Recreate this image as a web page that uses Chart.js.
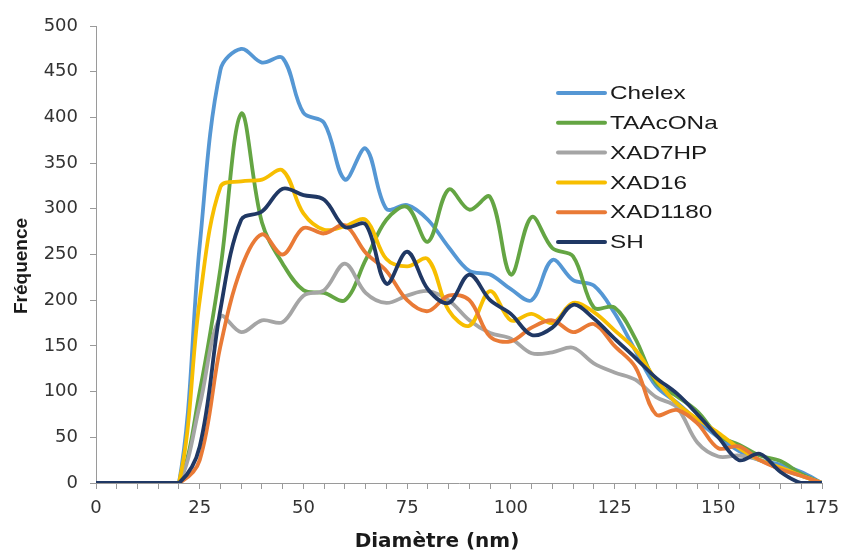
<!DOCTYPE html>
<html>
<head>
<meta charset="utf-8">
<script src="https://cdn.jsdelivr.net/npm/chart.js@4"></script>
<style>
  html, body { margin: 0; padding: 0; background: #ffffff; }
  canvas { display: block; }
</style>
</head>
<body>
<canvas id="chart" width="842" height="552"></canvas>
<script>
// Particle size distribution: frequency per 5 nm diameter bin
const diametres = [0, 5, 10, 15, 20, 25, 30, 35, 40, 45, 50, 55, 60, 65, 70, 75, 80, 85,
                   90, 95, 100, 105, 110, 115, 120, 125, 130, 135, 140, 145, 150, 155, 160, 165, 170, 175];

const chelex   = [0, 0, 0, 0, 0, 260, 452, 475, 460, 465, 405, 394, 332, 366, 300, 304, 288, 258,
                  232, 228, 212, 200, 244, 222, 216, 186, 145, 106, 88, 68, 50, 35, 25, 20, 12, 0];
const taaconna = [0, 0, 0, 0, 0, 100, 235, 404, 285, 240, 211, 208, 200, 244, 288, 302, 264, 321,
                  299, 313, 228, 291, 257, 248, 192, 192, 158, 110, 95, 78, 52, 42, 30, 24, 10, 0];
const xad7hp   = [0, 0, 0, 0, 0, 85, 182, 165, 178, 176, 205, 211, 240, 208, 197, 205, 210, 200,
                  178, 164, 158, 142, 143, 148, 131, 121, 113, 94, 83, 44, 29, 30, 25, 15, 8, 0];
const xad16    = [0, 0, 0, 0, 0, 200, 324, 330, 332, 342, 295, 277, 281, 288, 245, 237, 245, 189,
                  172, 210, 178, 185, 175, 197, 187, 167, 146, 113, 87, 70, 55, 38, 25, 17, 8, 0];
const xad1180  = [0, 0, 0, 0, 0, 25, 150, 235, 272, 250, 279, 273, 282, 252, 232, 200, 188, 205,
                  200, 160, 155, 170, 178, 165, 174, 150, 127, 75, 80, 65, 38, 40, 25, 15, 8, 0];
const sh       = [0, 0, 0, 0, 0, 40, 190, 288, 297, 322, 315, 310, 280, 283, 218, 253, 212, 197,
                  228, 200, 185, 162, 170, 195, 180, 158, 137, 115, 98, 75, 50, 25, 32, 12, 0, 0];

const seriesNames = ['Chelex', 'TAAcONa', 'XAD7HP', 'XAD16', 'XAD1180', 'SH'];
const seriesValues = [chelex, taaconna, xad7hp, xad16, xad1180, sh];
const seriesColors = ['#5597D4', '#64A543', '#A5A5A5', '#F7BE00', '#E97A36', '#203864'];

const yTicks = [0, 50, 100, 150, 200, 250, 300, 350, 400, 450, 500];
const xLabelStep = 25;
const xTitle = 'Diamètre (nm)';
const yTitle = 'Fréquence';

const SANS = '"Liberation Sans", Arial, sans-serif';
const WIDE = '"DejaVu Sans", sans-serif';
const AXIS_GREY = '#9a9a9a';

// Legend drawn inside the plot, top right (text slightly widened)
const insideLegend = {
  id: 'insideLegend',
  afterDatasetsDraw(chart) {
    const ctx = chart.ctx;
    const x0 = 558, x1 = 605, textX = 610, top = 93, step = 29.8;
    ctx.save();
    ctx.font = '19px ' + SANS;
    ctx.textBaseline = 'middle';
    ctx.textAlign = 'left';
    chart.data.datasets.forEach((ds, i) => {
      const y = top + i * step;
      ctx.strokeStyle = ds.borderColor;
      ctx.lineWidth = 4;
      ctx.lineCap = 'round';
      ctx.beginPath();
      ctx.moveTo(x0, y);
      ctx.lineTo(x1, y);
      ctx.stroke();
      ctx.save();
      ctx.translate(textX, y + 1);
      ctx.scale(1.28, 1);
      ctx.fillStyle = '#1a1a1a';
      ctx.fillText(ds.label, 0, 0);
      ctx.restore();
    });
    ctx.restore();
  }
};

// Axis titles, placed slightly off the plot centre
const axisTitles = {
  id: 'axisTitles',
  afterDraw(chart) {
    const ctx = chart.ctx;
    ctx.save();
    ctx.fillStyle = '#1a1a1a';
    ctx.textAlign = 'center';
    ctx.textBaseline = 'alphabetic';
    ctx.font = 'bold 20px ' + WIDE;
    ctx.fillText(xTitle, 437, 547);
    ctx.translate(27, 266);
    ctx.rotate(-Math.PI / 2);
    ctx.font = 'bold 19px ' + SANS;
    ctx.fillText(yTitle, 0, 0);
    ctx.restore();
  }
};

const datasets = seriesNames.map((name, i) => ({
  label: name,
  data: diametres.map((d, k) => ({ x: d, y: seriesValues[i][k] })),
  borderColor: seriesColors[i],
  backgroundColor: seriesColors[i],
  borderWidth: 3.8,
  pointRadius: 0,
  tension: 0.35,
  fill: false,
  order: seriesNames.length - i
}));

new Chart(document.getElementById('chart'), {
  type: 'line',
  data: { datasets },
  plugins: [insideLegend, axisTitles],
  options: {
    responsive: false,
    animation: false,
    devicePixelRatio: 1,
    layout: { padding: { top: 26, right: 20, left: 0, bottom: 0 } },
    plugins: {
      legend: { display: false },
      tooltip: { enabled: false }
    },
    scales: {
      x: {
        type: 'linear',
        min: 0,
        max: 175,
        afterFit(scale) {
          scale.height = 69;
          scale.paddingLeft = 0;
          scale.paddingRight = 0;
        },
        border: { display: true, color: AXIS_GREY, width: 1 },
        grid: { display: true, drawOnChartArea: false, drawTicks: true, tickLength: 6, color: AXIS_GREY },
        ticks: {
          stepSize: 5,
          autoSkip: false,
          maxRotation: 0,
          padding: 9,
          color: '#333333',
          font: { family: WIDE, size: 18 },
          callback: (v) => (v % xLabelStep === 0 ? String(v) : '')
        },
        title: { display: false }
      },
      y: {
        min: 0,
        max: 500,
        afterFit(scale) {
          scale.width = 96;
          scale.paddingTop = 0;
          scale.paddingBottom = 0;
        },
        afterBuildTicks(scale) { scale.ticks = yTicks.map(v => ({ value: v })); },
        border: { display: true, color: AXIS_GREY, width: 1 },
        grid: { display: true, drawOnChartArea: false, drawTicks: true, tickLength: 6, color: AXIS_GREY },
        ticks: {
          padding: 12,
          color: '#333333',
          font: { family: WIDE, size: 18 }
        },
        title: { display: false }
      }
    }
  }
});
</script>
</body>
</html>
